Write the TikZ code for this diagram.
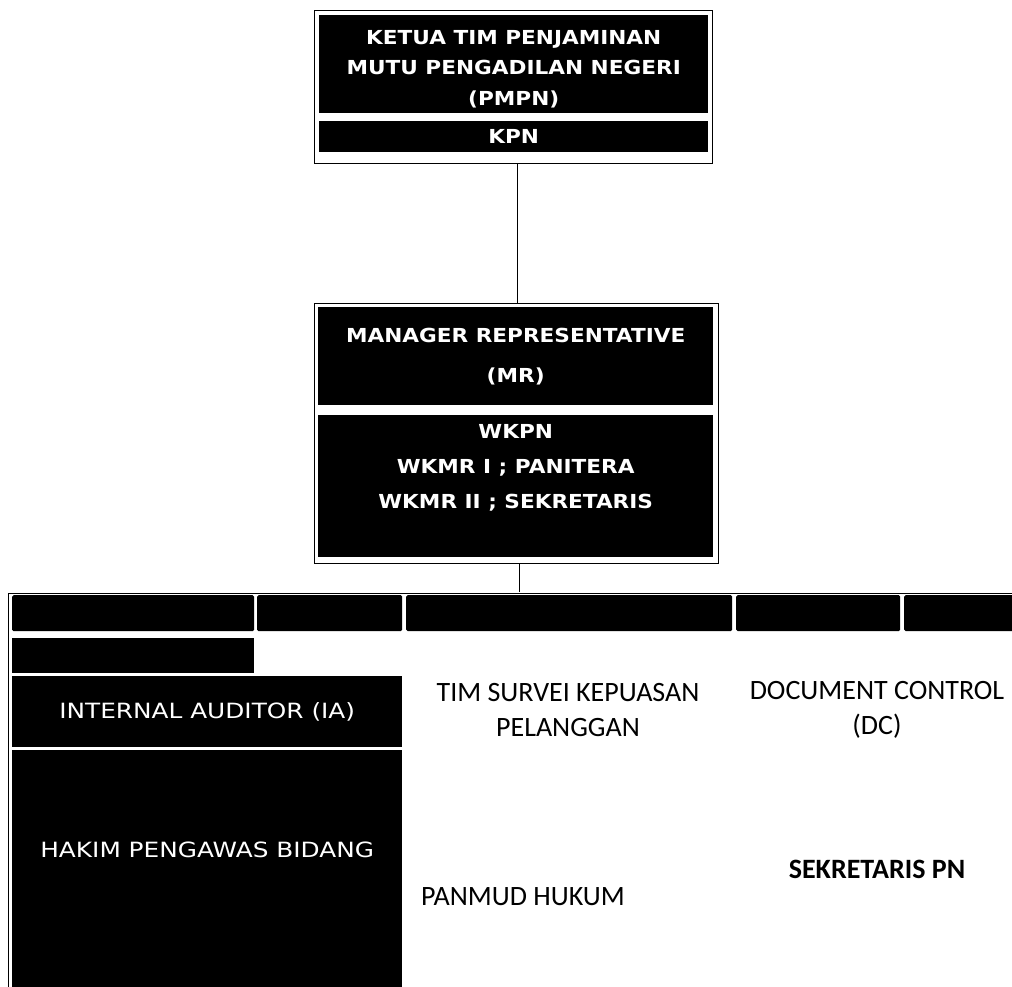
\documentclass[tikz,border=0pt]{standalone}
\usepackage{fontspec}
\setmainfont{Carlito}
\newfontfamily\boxfont[FakeStretch=1.12]{DejaVu Sans}
\newfontfamily\colfont[FakeStretch=1.18]{DejaVu Sans}
\usetikzlibrary{positioning}
\tikzset{
  frm/.style={draw=black, line width=1.2pt, fill=white, inner sep=0pt, anchor=north west},
  blk/.style={fill=black, inner sep=0pt, anchor=north west},
  wtxt/.style={text=white, inner sep=0pt, align=center,
    font=\boxfont\bfseries\fontsize{19.3}{30.5}\selectfont},
  cell/.style={fill=black, inner sep=0pt, anchor=north west, rounded corners=1.5pt},
  unit/.style={align=center, font=\fontsize{28}{35}\selectfont},
}

\begin{document}
\begin{tikzpicture}[x=1pt,y=-1pt]
  \useasboundingbox (0,0) rectangle (1012,987);
  % ketua PMPN
  \node[frm, minimum width=398pt, minimum height=153pt] (pmpn) at (314,10) {};
  \node[blk, minimum width=389pt, minimum height=98pt] (ketua) at (319,15) {};
  \node[wtxt] (ketuatxt) at ([yshift=-5pt]ketua.center)
    {KETUA TIM PENJAMINAN\\MUTU PENGADILAN NEGERI\\(PMPN)};
  \node[blk, minimum width=389pt, minimum height=31pt] (kpn) at (319,121) {};
  \node[wtxt] (kpntxt) at (kpn.center) {KPN};
  % MR
  \node[frm, minimum width=404pt, minimum height=260pt] (mrbox) at (314,303) {};
  \node[blk, minimum width=395pt, minimum height=98pt] (mr) at (318,307) {};
  \node[wtxt, font=\boxfont\bfseries\fontsize{19.3}{40}\selectfont] (mrtxt) at (mr.center)
    {MANAGER REPRESENTATIVE\\(MR)};
  \node[blk, minimum width=395pt, minimum height=142pt] (wkpn) at (318,415) {};
  \node[wtxt, font=\boxfont\bfseries\fontsize{19.3}{35}\selectfont] (wkpntxt)
    at ([yshift=18pt]wkpn.center) {WKPN\\WKMR I ; PANITERA\\WKMR II ; SEKRETARIS};
  \draw[line width=1pt] ([xshift=4pt]pmpn.south) -- ([xshift=4pt]pmpn.south |- mrbox.north);
  % unit frame
  \node[frm, draw=none, fill=none, minimum width=1013pt, minimum height=408pt] (units) at (7,592) {};
  \draw[double, double distance=1.6pt, line width=0.7pt] (units.south west) |- (units.north east);
  \draw[line width=1pt] ([xshift=3pt]mrbox.south) -- ([xshift=3pt]mrbox.south |- units.north);
  % row of empty heads
  \node[cell, minimum width=242pt, minimum height=36pt] (h1) at (12,595) {};
  \node[cell, minimum width=145pt, minimum height=36pt] (h2) at (257,595) {};
  \node[cell, minimum width=326pt, minimum height=36pt] (h3) at (406,595) {};
  \node[cell, minimum width=164pt, minimum height=36pt] (h4) at (736,595) {};
  \node[cell, minimum width=120pt, minimum height=36pt] (h5) at (904,595) {};
  \node[cell, rounded corners=0pt, minimum width=242pt, minimum height=35pt] (h6) at (12,638) {};
  % left column
  \node[blk, minimum width=390pt, minimum height=71pt] (ia) at (12,676) {};
  \node[wtxt, font=\colfont\fontsize{21}{26}\selectfont] (iatxt) at (ia.center)
    {INTERNAL AUDITOR (IA)};
  \node[blk, minimum width=390pt, minimum height=240pt] (hakim) at (12,750) {};
  \node[wtxt, font=\colfont\fontsize{21}{26}\selectfont] (hakimtxt)
    at ([yshift=20pt]hakim.center) {HAKIM PENGAWAS BIDANG};
  % units
  \node[unit] (survei) at (568,710) {TIM SURVEI KEPUASAN\\PELANGGAN};
  \node[unit] (dc) at (877,710) {DOCUMENT CONTROL\\(DC)};
  \node[unit] (panmud) at (523,897) {PANMUD HUKUM};
  \node[unit, font=\bfseries\fontsize{28}{30}\selectfont] (sekpn) at (877,869) {SEKRETARIS PN};
\end{tikzpicture}
\end{document}
